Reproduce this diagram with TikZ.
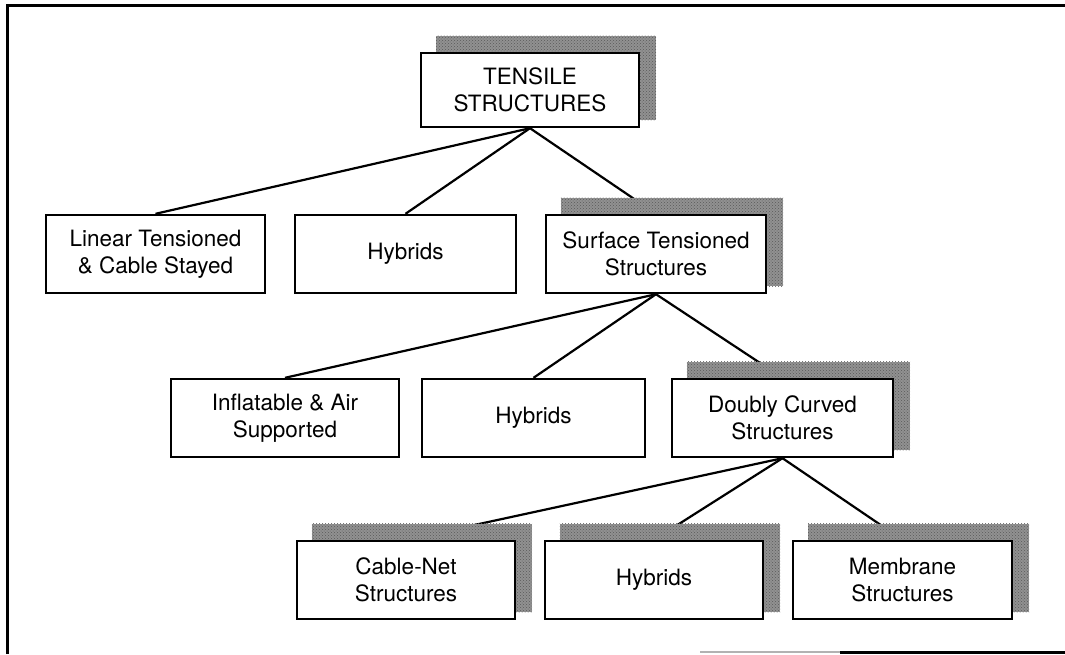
\documentclass[tikz,border=0pt]{standalone}
\usepackage{fontspec}
\setmainfont{TeX Gyre Heros}
\usetikzlibrary{backgrounds,calc,patterns}
\definecolor{shadowgray}{RGB}{145,145,145}
\tikzset{
  box/.style={draw=black, line width=2.4pt, fill=white, rectangle, inner sep=0pt,
    align=center, font=\fontsize{22.5}{27.5}\selectfont, minimum height=78pt},
  link/.style={draw=black, line width=2.2pt},
  frameline/.style={draw=black, line width=3pt},
}
\newcommand{\shadowbox}[1]{%
  \fill[shadowgray] ($(#1.north west)+(16,-16)$) rectangle ($(#1.south east)+(16,-8)$);
  \fill[pattern=crosshatch dots, pattern color=black!65] ($(#1.north west)+(16,-16)$) rectangle ($(#1.south east)+(16,-8)$);}
\begin{document}
\begin{tikzpicture}[x=1pt,y=-1pt]
\useasboundingbox (0,0) rectangle (1065,654);
% frame
\coordinate (f1) at (7,654);
\coordinate (f2) at (7,5);
\coordinate (f3) at (1065,5);
\coordinate (f4) at (700,652);
\coordinate (f5) at (840,652);
\coordinate (f6) at (1065,652);
\draw[frameline] (f1) -- (f2) -- (f3);
\draw[line width=2pt, black!30] (f4) -- (f5);
\draw[frameline] (f5) -- (f6);
% nodes
\node[box, minimum width=218pt, minimum height=74pt] (T) at (530,90) {TENSILE\\STRUCTURES};
\node[box, minimum width=219pt] (L) at (155.5,254) {Linear Tensioned\\\& Cable Stayed};
\node[box, minimum width=221pt] (H1) at (405.5,254) {Hybrids};
\node[box, minimum width=220pt] (S) at (656,254) {Surface Tensioned\\Structures};
\node[box, minimum width=228pt] (I) at (285,418) {Inflatable \& Air\\Supported};
\node[box, minimum width=223pt] (H2) at (533.5,418) {Hybrids};
\node[box, minimum width=221pt] (D) at (782.5,418) {Doubly Curved\\Structures};
\node[box, minimum width=218pt] (C) at (406,580) {Cable-Net\\Structures};
\node[box, minimum width=218pt] (H3) at (654,580) {Hybrids};
\node[box, minimum width=219pt] (M) at (902.5,580) {Membrane\\Structures};
\begin{scope}[on background layer]
  \draw[link] (T.south) -- (L.north);
  \draw[link] (T.south) -- (H1.north);
  \draw[link] (T.south) -- (S.north);
  \draw[link] (S.south) -- (I.north);
  \draw[link] (S.south) -- (H2.north);
  \draw[link] (S.south) -- (D.north);
  \draw[link] (D.south) -- (C.north);
  \draw[link] (D.south) -- (H3.north);
  \draw[link] (D.south) -- (M.north);
  \shadowbox{T}
  \shadowbox{S}
  \shadowbox{D}
  \shadowbox{C}
  \shadowbox{H3}
  \shadowbox{M}
\end{scope}
\end{tikzpicture}
\end{document}
